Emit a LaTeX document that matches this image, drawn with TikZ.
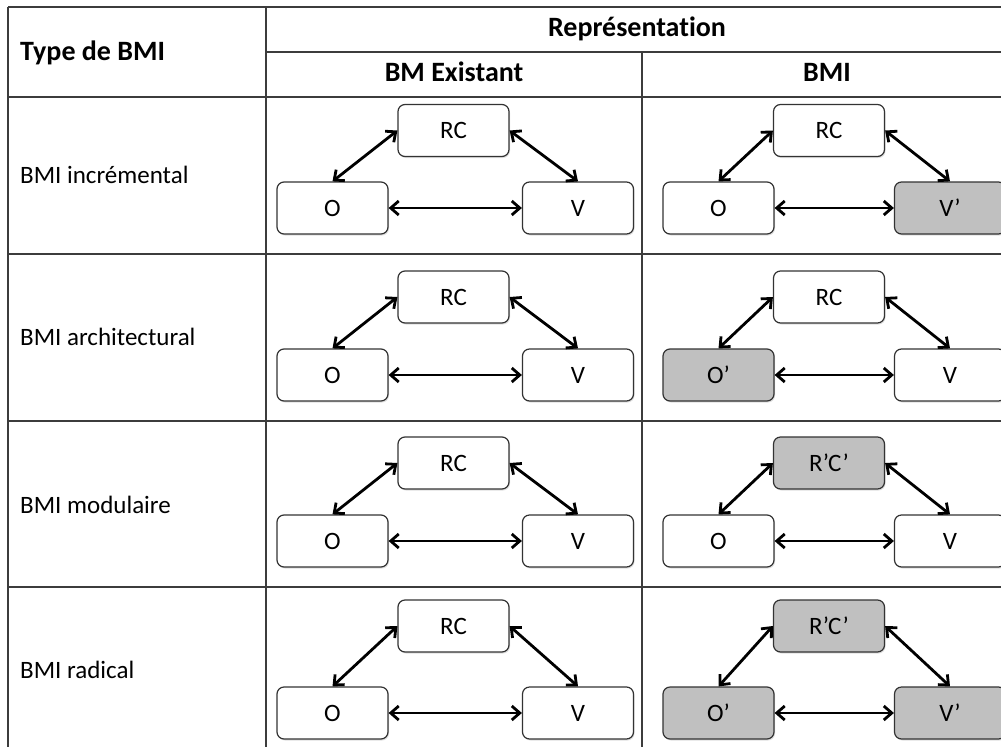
\documentclass[tikz,border=0pt]{standalone}
\usepackage{fontspec}
\setmainfont[Ligatures=NoCommon]{Carlito}
\usetikzlibrary{arrows.meta,shadows}
\definecolor{newgrey}{RGB}{192,192,192}
\definecolor{gridgrey}{RGB}{60,60,60}

\begin{document}
\begin{tikzpicture}[x=1pt,y=-1pt,
  font=\fontsize{25}{30}\selectfont,
  bm box/.style={draw=black!80,line width=1.2pt,rounded corners=7pt,
    minimum width=111pt,minimum height=52pt,inner sep=0pt,
    drop shadow={shadow xshift=1pt,shadow yshift=-1.5pt,opacity=0.25}},
  link/.style={<->,>={Straight Barb[length=8pt,width=14pt]},line width=2.8pt},
  grid line/.style={draw=gridgrey,line width=2pt},
  head/.style={font=\fontsize{28}{33}\selectfont\bfseries}]
  \useasboundingbox (0,0) rectangle (1001,747);
  \clip (0,0) rectangle (1001,747);
  % table
  \draw[grid line] (8,7) -- (1001,7);
  \draw[grid line] (8,7) -- (8,747);
  \draw[grid line] (266,7) -- (266,747);
  \draw[grid line] (642,52) -- (642,747);
  \draw[grid line] (266,52) -- (1001,52);
  \foreach \yl in {97,254,421,587}
    \draw[grid line] (8,\yl) -- (1001,\yl);
  % headers
  \node[head,anchor=base west,inner xsep=0pt] (type) at (20,60) {Type de BMI};
  \node[head,anchor=base] (repr) at (637,36) {Représentation};
  \node[head,anchor=base] (exist) at (454,81) {BM Existant};
  \node[head,anchor=base] (bmi) at (827,81) {BMI};
  \node[anchor=base west,inner xsep=0pt] (row1) at (20,183) {BMI incrémental};
  \node[anchor=base west,inner xsep=0pt] (row2) at (20,345) {BMI architectural};
  \node[anchor=base west,inner xsep=0pt] (row3) at (20,513) {BMI modulaire};
  \node[anchor=base west,inner xsep=0pt] (row4) at (20,678) {BMI radical};
  % BM existant
  \foreach \i/\yb/\yt in {1/208/130.5,2/375/297,3/541/463,4/713/626}{
    \node[bm box,fill=white] (o\i) at (332.5,\yb) {O};
    \node[bm box,fill=white] (v\i) at (578,\yb) {V};
    \node[bm box,fill=white] (rc\i) at (453.5,\yt) {RC};
    \path[link] (o\i.north) edge (rc\i.west)
                (rc\i.east) edge (v\i.north)
                (o\i) edge (v\i);
  }
  % BMI
  \foreach \i/\yb/\yt/\of/\ot/\rf/\rt/\vf/\vt in
    {1/208/130.5/white/O/white/RC/newgrey/V’,
     2/375/297/newgrey/O’/white/RC/white/V,
     3/541/463/white/O/newgrey/R’C’/white/V,
     4/713/626/newgrey/O’/newgrey/R’C’/newgrey/V’}{
    \node[bm box,fill=\of] (oo\i) at (718.5,\yb) {\ot};
    \node[bm box,fill=\vf] (vv\i) at (950,\yb) {\vt};
    \node[bm box,fill=\rf] (rr\i) at (829,\yt) {\rt};
    \path[link] (oo\i.north) edge (rr\i.west)
                (rr\i.east) edge (vv\i.north)
                (oo\i) edge (vv\i);
  }
\end{tikzpicture}
\end{document}
